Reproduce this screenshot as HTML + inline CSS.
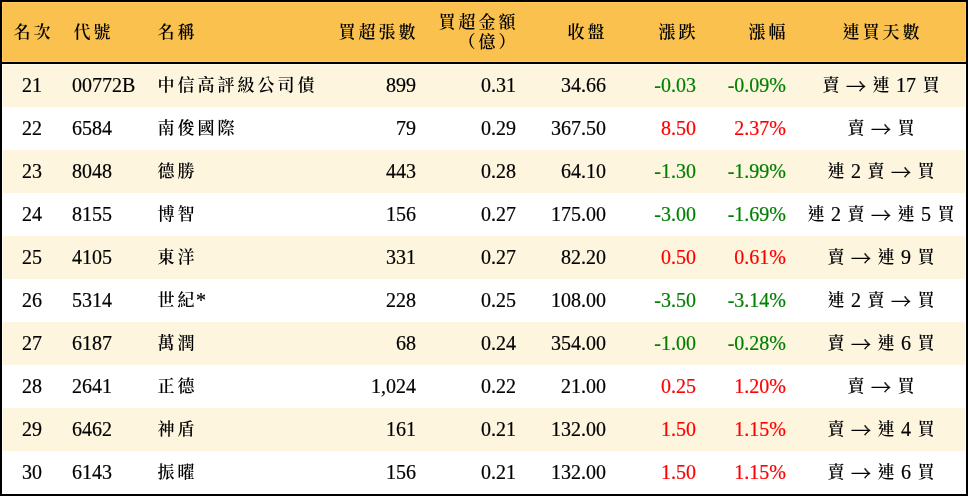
<!DOCTYPE html>
<html lang="zh-Hant">
<head>
<meta charset="utf-8">
<style>
html,body{margin:0;padding:0;background:#fff;}
body{width:968px;height:496px;overflow:hidden;position:relative;
  font-family:"Liberation Serif","Noto Serif CJK SC",serif;font-size:20px;color:#000;
  -webkit-text-stroke:0.2px currentColor;}
#frame{position:absolute;left:0;top:0;width:964px;height:492px;border:2px solid #000;background:#fff;overflow:hidden;}
table{border-collapse:collapse;border-spacing:0;table-layout:fixed;width:964px;position:absolute;left:0;top:0;}
th,td{padding:0;margin:0;font-weight:normal;white-space:nowrap;overflow:visible;}
thead tr{height:60px;background:#fac14e;}
thead th{height:60px;line-height:20px;border-bottom:2px solid #000;vertical-align:middle;}
thead th>div{position:relative;top:0px;}
tbody tr{height:43px;}
tbody td{height:43px;line-height:43px;vertical-align:middle;}
tbody td>div{position:relative;top:0px;height:43px;}
tbody tr:nth-child(odd){background:#fef5df;}
tbody tr:nth-child(even){background:#fff;}
.c{text-align:center;}
.l{text-align:left;padding-left:8px;}
.l2{text-align:left;padding-left:10px;}
.r{text-align:right;padding-right:10px;}
.hr{position:absolute;left:0;top:0;width:964px;height:60px;box-shadow:inset 0 0 0 1px #ffcb57;pointer-events:none;}
.rr{position:absolute;left:0;top:62px;width:964px;height:430px;box-shadow:inset 1px 0 0 #fffdee,inset -1px 0 0 #fffdee,inset 0 1px 0 #fffdee;pointer-events:none;mix-blend-mode:lighten;}
.g{color:#008000;}
.d{color:#ff0000;}
.k{font-size:17px;letter-spacing:3px;font-weight:600;margin-left:1.5px;margin-right:-1.5px;position:relative;top:-1px;-webkit-text-stroke:0;line-height:0;}
.r .k{left:1px;}
th:nth-child(6) .k{left:0;}
.a{font-family:"Noto Serif CJK SC","Liberation Serif",serif;-webkit-text-stroke:0.4px currentColor;line-height:0;position:relative;top:2px;font-weight:400;}
</style>
</head>
<body>
<div id="frame">
<table>
<colgroup><col style="width:60px"><col style="width:86px"><col style="width:188px"><col style="width:90px"><col style="width:100px"><col style="width:90px"><col style="width:90px"><col style="width:90px"><col style="width:170px"></colgroup>
<thead>
<tr>
<th class="c"><div><span class="k">名次</span></div></th>
<th class="l2"><div><span class="k">代號</span></div></th>
<th class="l"><div><span class="k">名稱</span></div></th>
<th class="r"><div><span class="k">買超張數</span></div></th>
<th class="r"><div><span class="k">買超金額</span><br><span class="k">（億）</span></div></th>
<th class="r"><div><span class="k">收盤</span></div></th>
<th class="r"><div><span class="k">漲跌</span></div></th>
<th class="r"><div><span class="k">漲幅</span></div></th>
<th class="c"><div><span class="k">連買天數</span></div></th>
</tr>
</thead>
<tbody>
<tr><td class="c"><div>21</div></td><td class="l2"><div>00772B</div></td><td class="l"><div><span class="k">中信高評級公司債</span></div></td><td class="r"><div>899</div></td><td class="r"><div>0.31</div></td><td class="r"><div>34.66</div></td><td class="r g"><div>-0.03</div></td><td class="r g"><div>-0.09%</div></td><td class="c"><div><span class="k">賣</span> <span class="a">→</span> <span class="k">連</span> 17 <span class="k">買</span></div></td></tr>
<tr><td class="c"><div>22</div></td><td class="l2"><div>6584</div></td><td class="l"><div><span class="k">南俊國際</span></div></td><td class="r"><div>79</div></td><td class="r"><div>0.29</div></td><td class="r"><div>367.50</div></td><td class="r d"><div>8.50</div></td><td class="r d"><div>2.37%</div></td><td class="c"><div><span class="k">賣</span> <span class="a">→</span> <span class="k">買</span></div></td></tr>
<tr><td class="c"><div>23</div></td><td class="l2"><div>8048</div></td><td class="l"><div><span class="k">德勝</span></div></td><td class="r"><div>443</div></td><td class="r"><div>0.28</div></td><td class="r"><div>64.10</div></td><td class="r g"><div>-1.30</div></td><td class="r g"><div>-1.99%</div></td><td class="c"><div><span class="k">連</span> 2 <span class="k">賣</span> <span class="a">→</span> <span class="k">買</span></div></td></tr>
<tr><td class="c"><div>24</div></td><td class="l2"><div>8155</div></td><td class="l"><div><span class="k">博智</span></div></td><td class="r"><div>156</div></td><td class="r"><div>0.27</div></td><td class="r"><div>175.00</div></td><td class="r g"><div>-3.00</div></td><td class="r g"><div>-1.69%</div></td><td class="c"><div><span class="k">連</span> 2 <span class="k">賣</span> <span class="a">→</span> <span class="k">連</span> 5 <span class="k">買</span></div></td></tr>
<tr><td class="c"><div>25</div></td><td class="l2"><div>4105</div></td><td class="l"><div><span class="k">東洋</span></div></td><td class="r"><div>331</div></td><td class="r"><div>0.27</div></td><td class="r"><div>82.20</div></td><td class="r d"><div>0.50</div></td><td class="r d"><div>0.61%</div></td><td class="c"><div><span class="k">賣</span> <span class="a">→</span> <span class="k">連</span> 9 <span class="k">買</span></div></td></tr>
<tr><td class="c"><div>26</div></td><td class="l2"><div>5314</div></td><td class="l"><div><span class="k">世紀</span>*</div></td><td class="r"><div>228</div></td><td class="r"><div>0.25</div></td><td class="r"><div>108.00</div></td><td class="r g"><div>-3.50</div></td><td class="r g"><div>-3.14%</div></td><td class="c"><div><span class="k">連</span> 2 <span class="k">賣</span> <span class="a">→</span> <span class="k">買</span></div></td></tr>
<tr><td class="c"><div>27</div></td><td class="l2"><div>6187</div></td><td class="l"><div><span class="k">萬潤</span></div></td><td class="r"><div>68</div></td><td class="r"><div>0.24</div></td><td class="r"><div>354.00</div></td><td class="r g"><div>-1.00</div></td><td class="r g"><div>-0.28%</div></td><td class="c"><div><span class="k">賣</span> <span class="a">→</span> <span class="k">連</span> 6 <span class="k">買</span></div></td></tr>
<tr><td class="c"><div>28</div></td><td class="l2"><div>2641</div></td><td class="l"><div><span class="k">正德</span></div></td><td class="r"><div>1,024</div></td><td class="r"><div>0.22</div></td><td class="r"><div>21.00</div></td><td class="r d"><div>0.25</div></td><td class="r d"><div>1.20%</div></td><td class="c"><div><span class="k">賣</span> <span class="a">→</span> <span class="k">買</span></div></td></tr>
<tr><td class="c"><div>29</div></td><td class="l2"><div>6462</div></td><td class="l"><div><span class="k">神盾</span></div></td><td class="r"><div>161</div></td><td class="r"><div>0.21</div></td><td class="r"><div>132.00</div></td><td class="r d"><div>1.50</div></td><td class="r d"><div>1.15%</div></td><td class="c"><div><span class="k">賣</span> <span class="a">→</span> <span class="k">連</span> 4 <span class="k">買</span></div></td></tr>
<tr><td class="c"><div>30</div></td><td class="l2"><div>6143</div></td><td class="l"><div><span class="k">振曜</span></div></td><td class="r"><div>156</div></td><td class="r"><div>0.21</div></td><td class="r"><div>132.00</div></td><td class="r d"><div>1.50</div></td><td class="r d"><div>1.15%</div></td><td class="c"><div><span class="k">賣</span> <span class="a">→</span> <span class="k">連</span> 6 <span class="k">買</span></div></td></tr>
</tbody>
</table>
<div class="hr"></div>
<div class="rr"></div>
</div>
</body>
</html>
